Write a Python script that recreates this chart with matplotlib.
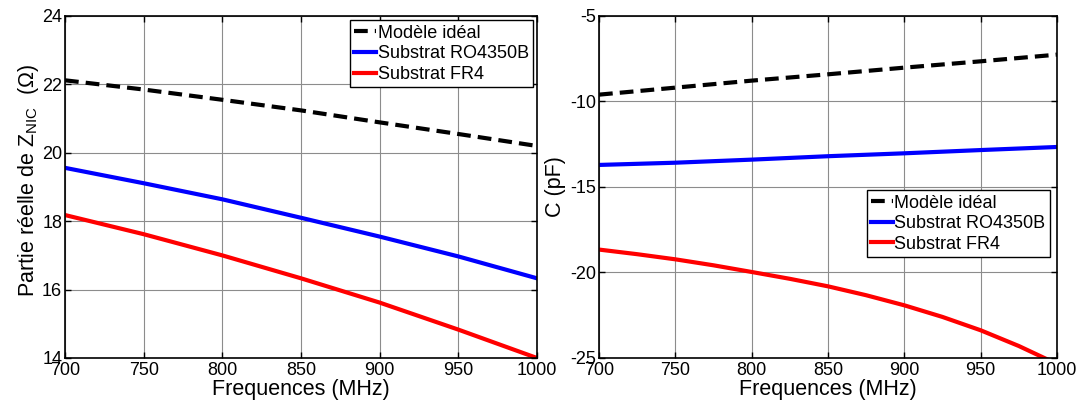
import matplotlib
matplotlib.use("Agg")
import matplotlib.pyplot as plt

plt.rcParams['font.family'] = ['Liberation Sans', 'DejaVu Sans']
plt.rcParams['mathtext.fontset'] = 'custom'
plt.rcParams['mathtext.rm'] = 'Liberation Sans'
plt.rcParams['mathtext.it'] = 'Liberation Sans:italic'
plt.rcParams['axes.unicode_minus'] = False

freq = [700, 750, 800, 850, 900, 950, 1000]
freq_fine = [700, 725, 750, 775, 800, 825, 850, 875, 900, 925, 950, 975, 1000]

# Partie reelle de Z_NIC (Ohm)
r_ideal = [22.12, 21.85, 21.55, 21.24, 20.89, 20.55, 20.20]
r_ro4350 = [19.56, 19.11, 18.64, 18.10, 17.55, 16.97, 16.33]
r_fr4 = [18.18, 17.62, 17.00, 16.33, 15.62, 14.83, 14.00]

# Capacite C (pF)
c_ideal = [-9.60, -9.19, -8.78, -8.41, -8.02, -7.65, -7.26]
c_ro4350 = [-13.71, -13.58, -13.40, -13.20, -13.03, -12.84, -12.66]
c_fr4 = [-18.66, -18.93, -19.23, -19.58, -19.97, -20.37, -20.81,
         -21.33, -21.92, -22.60, -23.38, -24.30, -25.35]

labels = ["Modèle idéal", "Substrat RO4350B", "Substrat FR4"]

fig = plt.figure(figsize=(10.83, 4.03), dpi=100)
ax1 = fig.add_axes([0.060, 0.1117, 0.4358, 0.8486])
ax2 = fig.add_axes([0.5531, 0.1117, 0.4229, 0.8486])


def style_axes(ax, yticks):
    ax.set_xlim(700, 1000)
    ax.set_xticks(freq)
    ax.set_ylim(yticks[0], yticks[-1])
    ax.set_yticks(yticks)
    ax.grid(True, color='0.55', linewidth=0.8)
    ax.tick_params(direction='in', length=4, width=1, top=True, right=True,
                   labelsize=13)
    ax.tick_params(axis='x', pad=3)
    ax.tick_params(axis='y', pad=2)
    for sp in ax.spines.values():
        sp.set_linewidth(1.2)
        sp.set_color('black')
    ax.set_xlabel("Frequences (MHz)", fontsize=15.5, labelpad=0)


ax1.plot(freq, r_ideal, color='black', lw=3, dashes=(3.3, 1.7), label=labels[0])
ax1.plot(freq, r_ro4350, color='#0000ff', lw=3, label=labels[1])
ax1.plot(freq, r_fr4, color='#ff0000', lw=3, label=labels[2])

ax2.plot(freq, c_ideal, color='black', lw=3, dashes=(3.3, 1.7), label=labels[0])
ax2.plot(freq, c_ro4350, color='#0000ff', lw=3, label=labels[1])
ax2.plot(freq_fine, c_fr4, color='#ff0000', lw=3, label=labels[2])

style_axes(ax1, [14, 16, 18, 20, 22, 24])
style_axes(ax2, [-25, -20, -15, -10, -5])

ax1.set_ylabel("Partie réelle de Z$_{\\mathregular{NIC}}$  (Ω)", fontsize=15.5)
ax2.set_ylabel("C (pF)", fontsize=15.5)
ax1.yaxis.set_label_coords(-0.050, 0.52)
ax2.yaxis.set_label_coords(-0.073, 0.5)

leg_kw = dict(fontsize=13, handlelength=1.2, handletextpad=0.1, borderpad=0.25,
              labelspacing=0.2, borderaxespad=0.0, fancybox=False,
              edgecolor='black', framealpha=1)
leg1 = ax1.legend(loc='upper right', bbox_to_anchor=(0.992, 0.988), **leg_kw)
leg2 = ax2.legend(loc='upper right', bbox_to_anchor=(0.985, 0.491), **leg_kw)
for leg in (leg1, leg2):
    leg.get_frame().set_linewidth(1.0)

fig.savefig("out.png", dpi=100)
